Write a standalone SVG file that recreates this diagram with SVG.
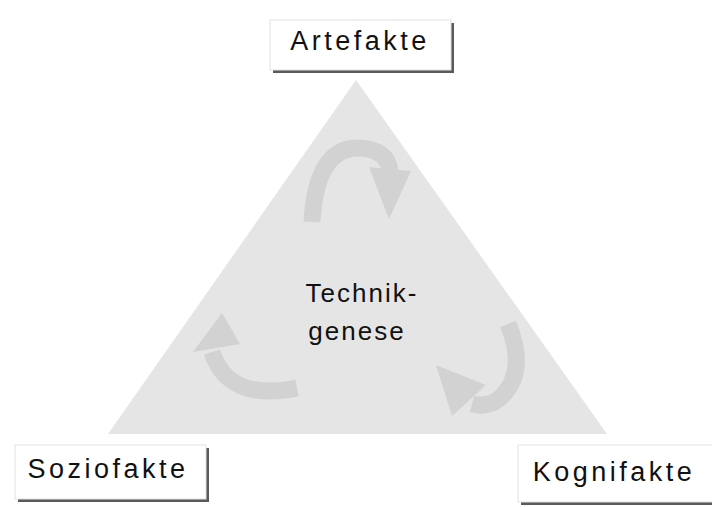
<svg xmlns="http://www.w3.org/2000/svg" width="712" height="507" viewBox="0 0 712 507">
<defs>
<style>
.lbl{font-family:"Liberation Sans",Arial,sans-serif;font-size:27px;fill:#111;letter-spacing:3.5px;text-anchor:middle}
.ctr{font-family:"Liberation Sans",Arial,sans-serif;font-size:26px;fill:#111;letter-spacing:2px;text-anchor:middle}
.box{fill:#ffffff;stroke:#e2e2e2;stroke-width:1}
.shadow{fill:#5a5a5a}
.body{fill:none;stroke:#d2d2d2;stroke-width:17;stroke-linecap:butt}
.head{fill:#d2d2d2}
</style>
</defs>
<rect width="712" height="507" fill="#ffffff"/>
<g id="triangle">
<polygon points="356,80 607,434 108,434" fill="#e5e5e5"/>
</g>
<g id="connectors">
<path class="body" d="M 312 222 Q 316 150 356 148 Q 388 148 390 172"/>
<polygon class="head" points="369,167 411,171 389,219"/>
<path class="body" d="M 508 324 Q 528 372 500 398 Q 488 408 472 404"/>
<polygon class="head" points="486,385 452,416 436,365"/>
<path class="body" d="M 297 388 Q 228 402 212 352"/>
<polygon class="head" points="193,352 240,344 222,313"/>
</g>
<g id="center">
<text class="ctr" x="362" y="302">Technik-</text>
<text class="ctr" x="357" y="340">genese</text>
</g>
<g id="artefakte">
<rect class="shadow" x="273" y="23" width="181" height="50"/>
<rect class="box" x="270" y="20" width="181" height="50"/>
<text class="lbl" x="360" y="50">Artefakte</text>
</g>
<g id="soziofakte">
<rect class="shadow" x="18" y="448" width="191" height="54"/>
<rect class="box" x="15" y="445" width="191" height="54"/>
<text class="lbl" x="108" y="478">Soziofakte</text>
</g>
<g id="kognifakte">
<rect class="shadow" x="521" y="448" width="200" height="57"/>
<rect class="box" x="518" y="445" width="200" height="57"/>
<text class="lbl" x="614" y="481">Kognifakte</text>
</g>
</svg>
